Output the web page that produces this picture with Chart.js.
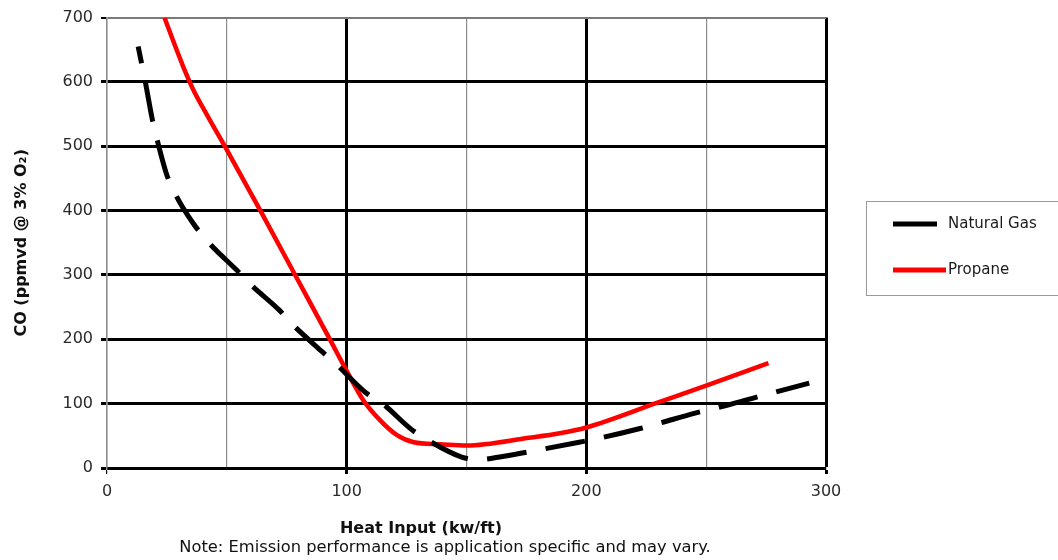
<!DOCTYPE html>
<html>
<head>
<meta charset="utf-8">
<script src="https://cdn.jsdelivr.net/npm/chart.js@4.4.0/dist/chart.umd.min.js"></script>
<style>
  html, body { margin: 0; padding: 0; background: #fff; }
  #contenedor { width: 1058px; height: 560px; }
</style>
</head>
<body>
<div id="contenedor"><canvas id="grafica" width="1058" height="560"></canvas></div>
<script>
// Calor aportado (kW/ft) y CO (ppmvd @ 3% O2) para cada combustible
var gasX  = [13, 16, 19, 21, 25, 29, 36, 43, 54, 60, 72, 78, 90, 96, 108, 115, 127, 134, 148, 155, 165, 180, 197, 205, 222, 230, 245, 253, 270, 278, 293];
var gasCO = [655, 600, 540, 509, 455, 422, 380, 348, 308, 285, 245, 221, 180, 160, 117, 100, 60, 43, 17, 13, 18, 28, 40, 46, 61, 69, 85, 92, 109, 117, 132];

var propanoX  = [24, 28, 32, 36, 42, 49.6, 64, 78.5, 93, 100, 107, 114, 121, 128, 139, 150, 176, 189, 200, 230, 250, 276];
var propanoCO = [700, 660, 622, 588, 547, 497, 400, 300, 200, 151, 105, 74, 51, 40, 37, 35, 47, 54, 63, 102, 128, 163];

var ticksX = [0, 100, 200, 300];
var nombres = ["Natural Gas", "Propane"];

var tituloX = "Heat Input (kw/ft)";
var tituloY = "CO (ppmvd @ 3% O\u2082)";
var nota = "Note: Emission performance is application specific and may vary.";

function puntos(xs, ys) {
  var salida = [];
  for (var i = 0; i < xs.length; i++) {
    salida.push({ x: xs[i], y: ys[i] });
  }
  return salida;
}

// leyenda con recuadro, titulo del eje x y nota al pie
var extras = {
  id: "extras",
  afterDraw: function (chart) {
    var ctx = chart.ctx;
    var sets = chart.data.datasets;
    ctx.save();
    ctx.strokeStyle = "#9a9a9a";
    ctx.lineWidth = 1;
    ctx.strokeRect(866.5, 201.5, 200, 94);

    var filas = [224, 270];
    var largo = [44, 53];
    for (var i = 0; i < sets.length; i++) {
      ctx.beginPath();
      ctx.strokeStyle = sets[i].borderColor;
      ctx.lineWidth = 5;
      ctx.moveTo(893, filas[i]);
      ctx.lineTo(893 + largo[i], filas[i]);
      ctx.stroke();
      ctx.fillStyle = "#1a1a1a";
      ctx.font = "15px 'DejaVu Sans'";
      ctx.textAlign = "left";
      ctx.textBaseline = "middle";
      ctx.fillText(sets[i].label, 948, filas[i]);
    }

    ctx.textAlign = "center";
    ctx.fillStyle = "#111";
    ctx.font = "bold 16px 'DejaVu Sans'";
    ctx.fillText(tituloX, 421, 529);
    ctx.font = "16.3px 'DejaVu Sans'";
    ctx.fillText(nota, 445, 548);
    ctx.restore();
  }
};

var ctx = document.getElementById("grafica").getContext("2d");
var grafica = new Chart(ctx, {
  type: "scatter",
  data: {
    datasets: [{
      label: nombres[0],
      data: puntos(gasX, gasCO),
      showLine: true,
      borderColor: "#000000",
      borderWidth: 5,
      borderDash: [40, 19.4],
      borderDashOffset: 23,
      pointRadius: 0,
      cubicInterpolationMode: "monotone"
    }, {
      label: nombres[1],
      data: puntos(propanoX, propanoCO),
      showLine: true,
      borderColor: "#ff0000",
      borderWidth: 4.5,
      pointRadius: 0,
      cubicInterpolationMode: "monotone"
    }]
  },
  options: {
    responsive: false,
    animation: false,
    layout: { padding: { top: 13, right: 232, left: 0, bottom: 0 } },
    plugins: {
      legend: { display: false },
      tooltip: { enabled: false }
    },
    scales: {
      x: {
        type: "linear",
        min: 0,
        max: 300,
        afterFit: function (s) { s.height = 92; },
        afterBuildTicks: function (s) {
          s.ticks = [0, 50, 100, 150, 200, 250, 300].map(function (v) { return { value: v }; });
        },
        ticks: {
          autoSkip: false,
          maxRotation: 0,
          padding: 8,
          color: "#2a2a2a",
          font: { family: "DejaVu Sans", size: 16 },
          callback: function (v) { return ticksX.indexOf(v) >= 0 ? v : ""; }
        },
        grid: {
          tickLength: 6,
          color: function (c) { return c.tick && c.tick.value % 100 === 0 && c.tick.value > 0 ? "#000" : "#8c8c8c"; },
          lineWidth: function (c) { return c.tick && c.tick.value % 100 === 0 && c.tick.value > 0 ? 3 : 1.2; },
          tickColor: function (c) { return c.tick && c.tick.value % 100 === 0 ? "#000" : "rgba(0,0,0,0)"; }
        },
        border: { color: "#000", width: 3 }
      },
      y: {
        min: 0,
        max: 700,
        afterFit: function (s) { s.width = 107; },
        ticks: {
          stepSize: 100,
          padding: 8,
          color: "#2a2a2a",
          font: { family: "DejaVu Sans", size: 16 }
        },
        title: {
          display: true,
          text: tituloY,
          color: "#111",
          font: { family: "DejaVu Sans", size: 16, weight: "bold" },
          padding: { top: 12, bottom: 0 }
        },
        grid: {
          tickLength: 6,
          color: function (c) { return c.tick && c.tick.value === 700 ? "#7a7a7a" : "#000"; },
          lineWidth: function (c) { return c.tick && c.tick.value === 700 ? 2 : 3; },
          tickColor: "#000"
        },
        border: { color: "#8c8c8c", width: 1.5 }
      }
    }
  },
  plugins: [extras]
});
</script>
</body>
</html>
